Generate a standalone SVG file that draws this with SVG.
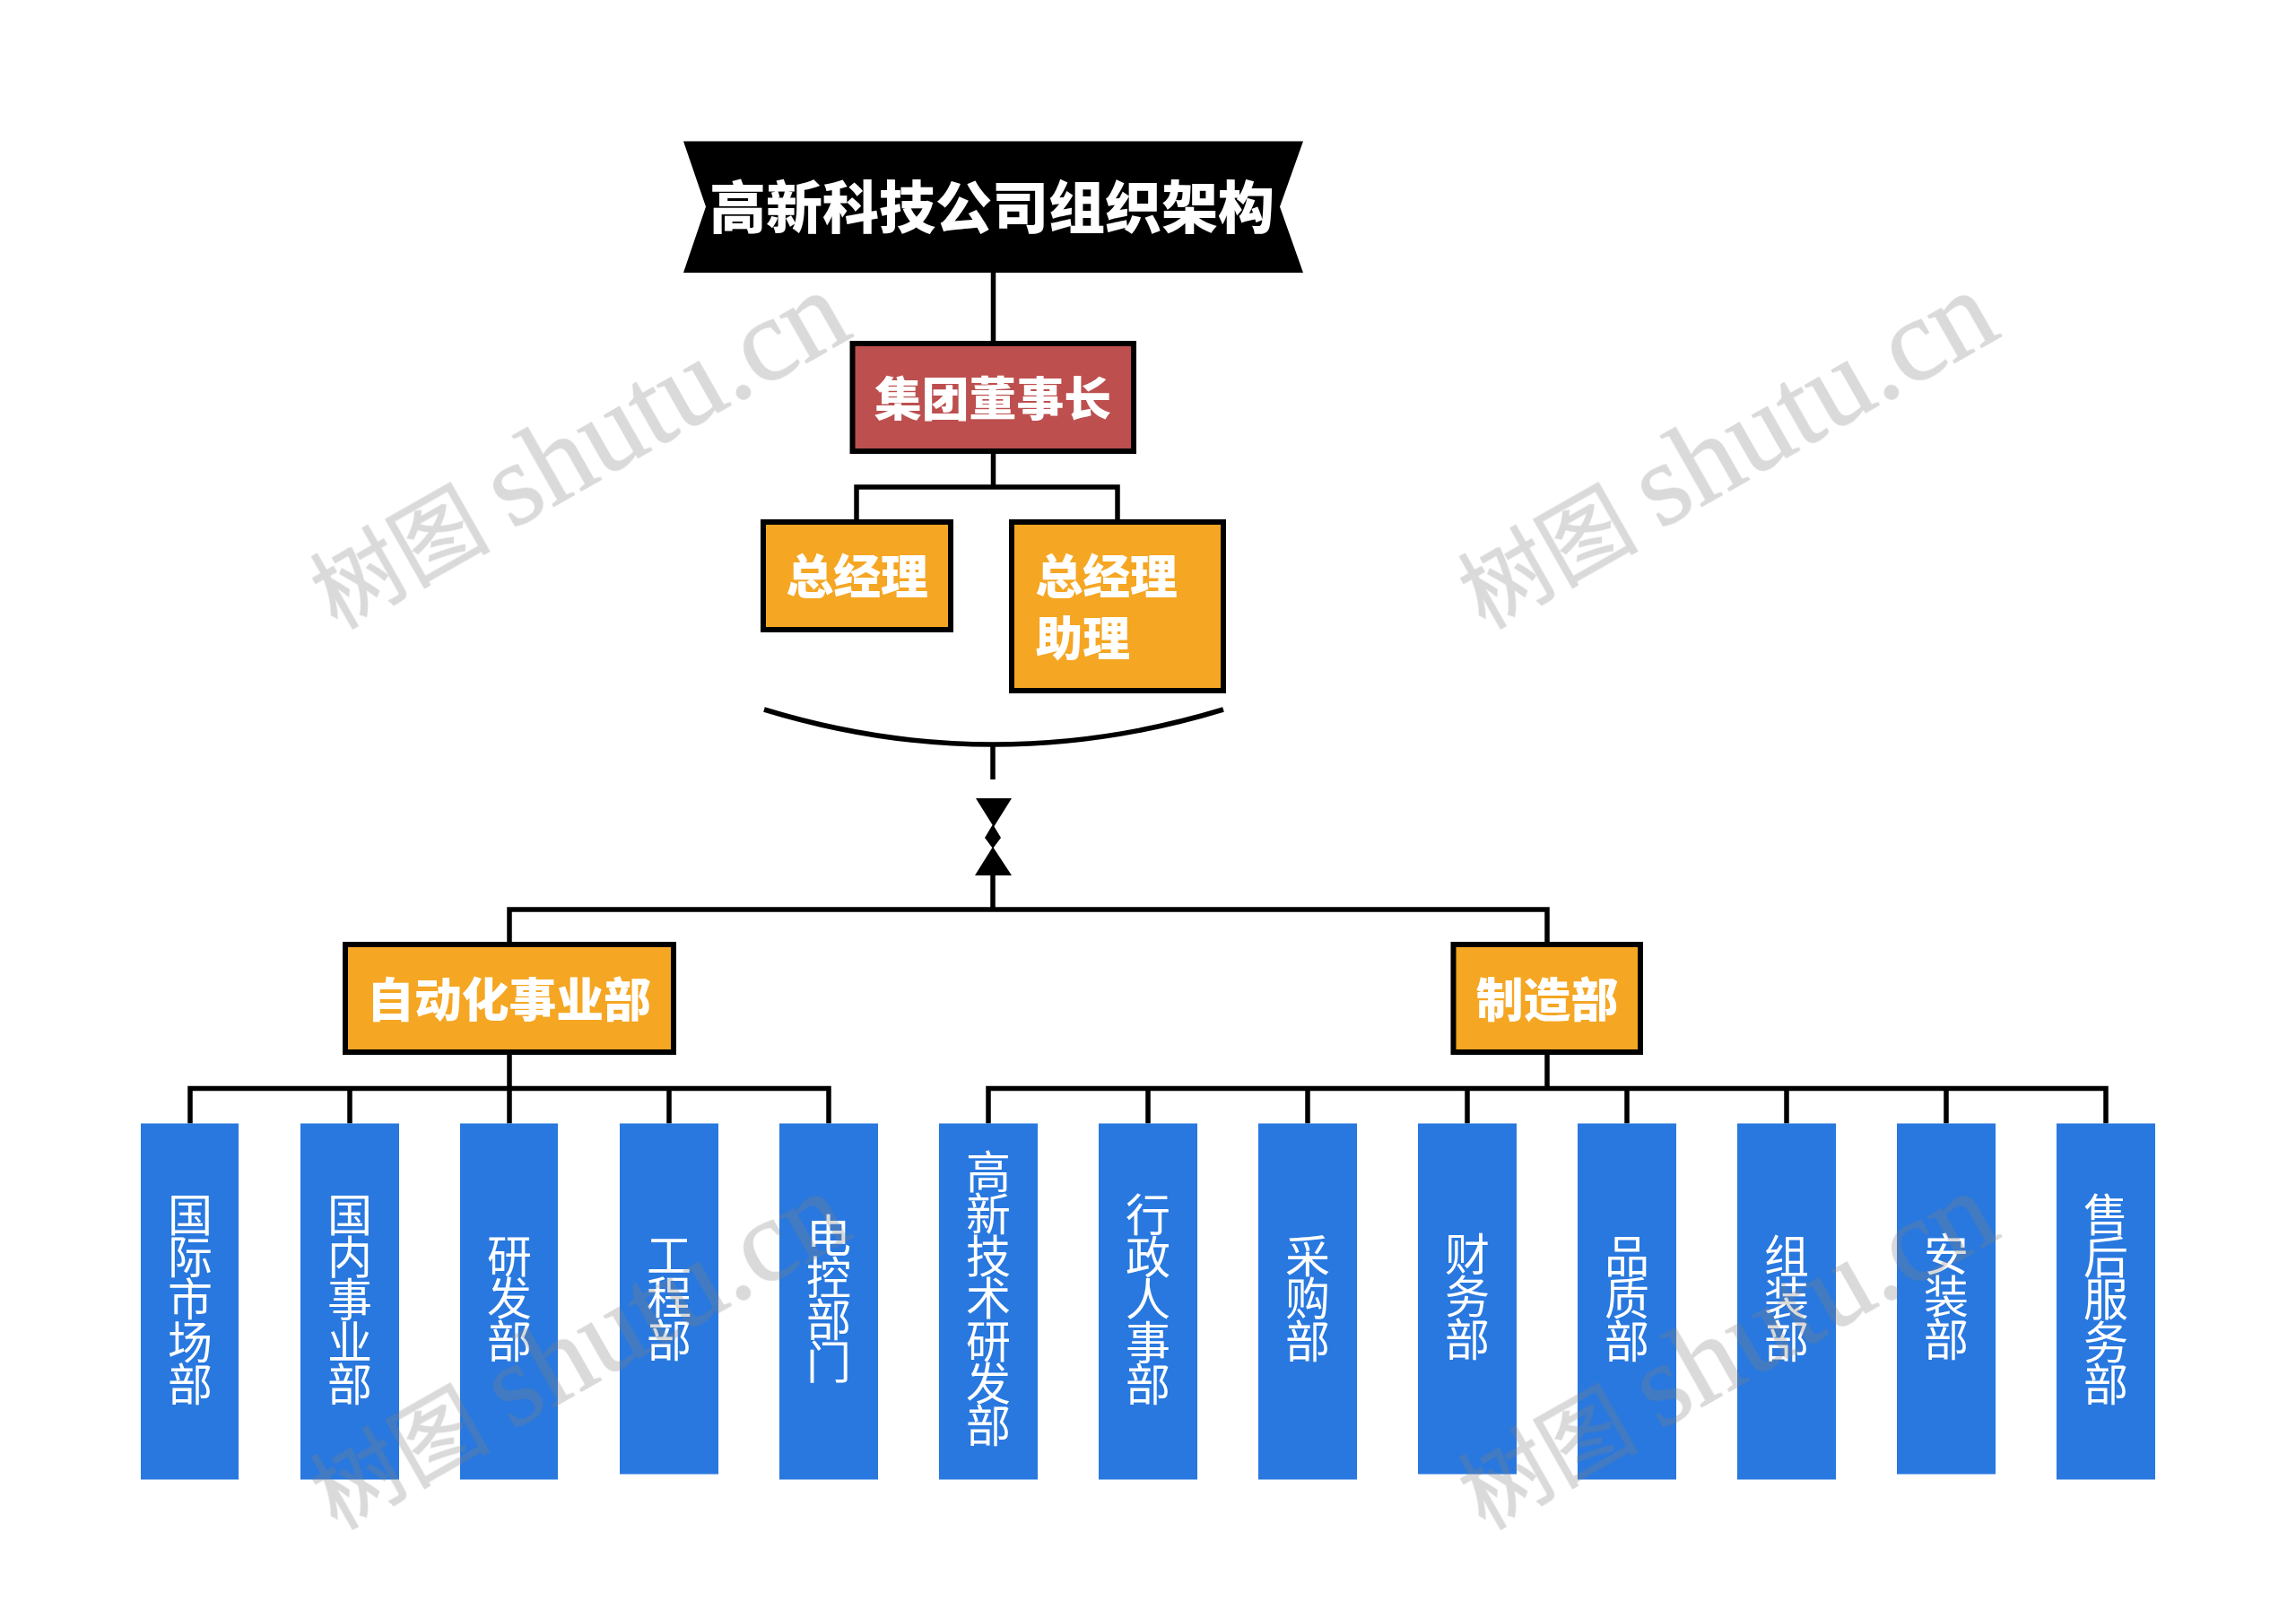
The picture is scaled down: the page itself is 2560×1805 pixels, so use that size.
<svg xmlns="http://www.w3.org/2000/svg" width="2560" height="1805" viewBox="0 0 2560 1805">
<style>
text{font-family:"Noto Sans CJK SC","Noto Sans",sans-serif}
.h{font-weight:900;fill:#fff;font-size:52.800px;dominant-baseline:central}
.box{stroke:#000;stroke-width:6}
.o{fill:#F5A623}
.b{fill:#2878DF}
.v{fill:#fff;font-size:50px;letter-spacing:-2.800px;writing-mode:vertical-rl;text-anchor:middle}
.c{fill:none;stroke:#000;stroke-width:5.500}
.wm{fill:#828282;stroke:#828282;stroke-width:1.200;opacity:.3}
.wm text{font-family:"Liberation Serif","Noto Sans CJK SC",serif}
</style>
<rect width="2560" height="1805" fill="#fff"/>
<g id="connectors">
<path class="c" d="M1107.500 303V381M1107.500 506V543M955 580V543H1246V580"/>
<path class="c" d="M852 791Q1107 869 1364 791M1107 830V869M1107 976V1014"/>
<path class="c" d="M568 1050V1014H1725V1050M568 1175V1213.500M212 1252.500V1213.500H924V1252.500M390 1213.500V1252.500M568 1213.500V1252.500M746 1213.500V1252.500"/>
<path class="c" d="M1725 1175V1213.500M1102 1252.500V1213.500H2348V1252.500M1280 1213.500V1252.500M1458 1213.500V1252.500M1636 1213.500V1252.500M1814 1213.500V1252.500M1992 1213.500V1252.500M2170 1213.500V1252.500"/>
<path fill="#000" d="M1088 890H1128L1108 922ZM1107 919L1116 934L1107 946L1098 934ZM1107 944L1128 976H1087Z"/>
</g>
<g id="title"><path fill="#000" d="M762 157.500H1453L1427 230.500L1453 304H762L787 230.500Z"/><text x="1106" y="226" text-anchor="middle" class="h" style="font-size:63px">高新科技公司组织架构</text></g>
<g id="chairman"><rect class="box" x="950.500" y="383" width="313.500" height="120" fill="#BD4F4F"/><text x="1107" y="441" text-anchor="middle" class="h">集团董事长</text></g>
<g id="gm"><rect class="box o" x="851" y="582" width="209" height="120"/><text x="876.500" y="639" class="h">总经理</text></g>
<g id="gm-assistant"><rect class="box o" x="1128" y="582" width="236" height="188"/><text x="1154.500" y="639" class="h">总经理</text><text x="1154.500" y="708" class="h">助理</text></g>
<g id="automation"><rect class="box o" x="385" y="1053" width="366" height="120"/><text x="567.500" y="1111" text-anchor="middle" class="h">自动化事业部</text></g>
<g id="manufacturing"><rect class="box o" x="1620.500" y="1053" width="208.500" height="120"/><text x="1725" y="1111" text-anchor="middle" class="h">制造部</text></g>
<g id="d1"><rect class="b" x="157" y="1252.500" width="109" height="397"/><text class="v" x="212" y="1447">国际市场部</text></g>
<g id="d2"><rect class="b" x="335" y="1252.500" width="110" height="397"/><text class="v" x="390" y="1447">国内事业部</text></g>
<g id="d3"><rect class="b" x="513" y="1252.500" width="109" height="397"/><text class="v" x="568" y="1446">研发部</text></g>
<g id="d4"><rect class="b" x="691" y="1252.500" width="110" height="391"/><text class="v" x="746" y="1445">工程部</text></g>
<g id="d5"><rect class="b" x="869" y="1252.500" width="110" height="397"/><text class="v" x="924" y="1446">电控部门</text></g>
<g id="d6"><rect class="b" x="1047" y="1252.500" width="110" height="397"/><text class="v" x="1102" y="1446">高新技术研发部</text></g>
<g id="d7"><rect class="b" x="1225" y="1252.500" width="110" height="397"/><text class="v" x="1280" y="1447">行政人事部</text></g>
<g id="d8"><rect class="b" x="1403" y="1252.500" width="110" height="397"/><text class="v" x="1458" y="1446">采购部</text></g>
<g id="d9"><rect class="b" x="1581" y="1252.500" width="110" height="391"/><text class="v" x="1636" y="1444">财务部</text></g>
<g id="d10"><rect class="b" x="1759" y="1252.500" width="110" height="397"/><text class="v" x="1814" y="1446">品质部</text></g>
<g id="d11"><rect class="b" x="1937" y="1252.500" width="110" height="397"/><text class="v" x="1992" y="1446">组装部</text></g>
<g id="d12"><rect class="b" x="2115" y="1252.500" width="110" height="391"/><text class="v" x="2170" y="1444">安装部</text></g>
<g id="d13"><rect class="b" x="2293" y="1252.500" width="110" height="397"/><text class="v" x="2348" y="1447">售后服务部</text></g>
<g id="watermarks" class="wm">
<text transform="translate(375 702) rotate(-29.600)" font-size="100">树图 <tspan font-size="131">shutu.cn</tspan></text>
<text transform="translate(1655 702) rotate(-29.600)" font-size="100">树图 <tspan font-size="131">shutu.cn</tspan></text>
<text transform="translate(375 1706) rotate(-29.600)" font-size="100">树图 <tspan font-size="131">shutu.cn</tspan></text>
<text transform="translate(1655 1706) rotate(-29.600)" font-size="100">树图 <tspan font-size="131">shutu.cn</tspan></text>
</g>
</svg>
